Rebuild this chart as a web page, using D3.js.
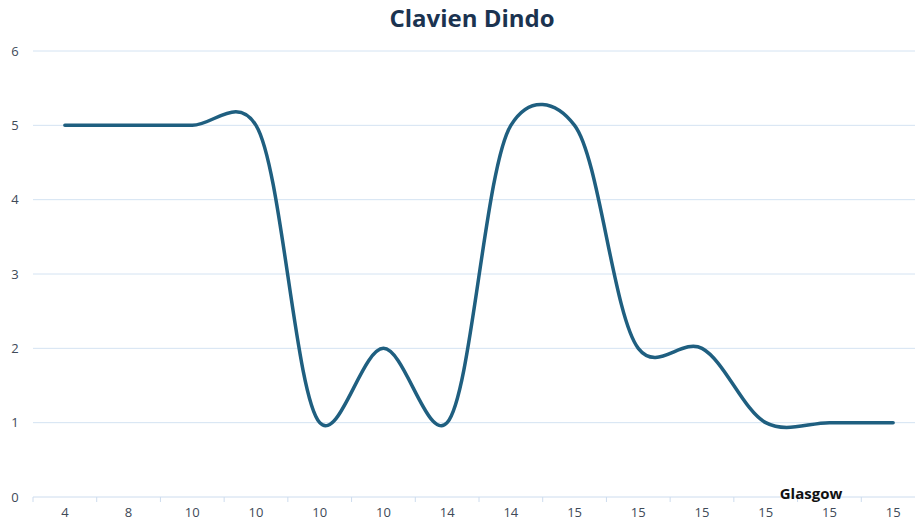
<!DOCTYPE html>
<html>
<head>
<meta charset="utf-8">
<script src="https://cdn.jsdelivr.net/npm/d3@7"></script>
<style>
  body { margin: 0; background: #fff; overflow: hidden; }
  text { font-family: "Open Sans", "Noto Sans", sans-serif; }
</style>
</head>
<body>
<script>
// chart data
const categories = ["4", "8", "10", "10", "10", "10", "14", "14", "15", "15", "15", "15", "15", "15"];
const values = [5, 5, 5, 5, 1, 2, 1, 5, 5, 2, 2, 1, 1, 1];
const yTicks = [0, 1, 2, 3, 4, 5, 6];

const width = 915, height = 524;
const margin = {top: 51, right: -10, bottom: 27, left: 33};

const svg = d3.select("body").append("svg")
    .attr("width", width)
    .attr("height", height);

const x = d3.scaleBand()
    .domain(d3.range(categories.length))
    .range([margin.left, width - margin.right]);

const y = d3.scaleLinear()
    .domain([0, 6])
    .range([height - margin.bottom, margin.top]);

// gridlines
svg.append("g")
    .selectAll("line")
    .data(yTicks.filter(d => d > 0))
    .join("line")
    .attr("x1", margin.left)
    .attr("x2", width)
    .attr("y1", d => y(d))
    .attr("y2", d => y(d))
    .attr("stroke", "#d4e3f2")
    .attr("stroke-width", 1);

// y labels
svg.append("g")
    .selectAll("text")
    .data(yTicks)
    .join("text")
    .attr("x", 15)
    .attr("y", d => y(d))
    .attr("dy", "0.35em")
    .attr("text-anchor", "middle")
    .attr("font-size", 13)
    .attr("fill", "#404a58")
    .text(d => d);

// x axis
const xAxis = svg.append("g")
    .attr("transform", `translate(0,${y(0)})`);

xAxis.append("line")
    .attr("x1", margin.left)
    .attr("x2", width)
    .attr("stroke", "#cddcee")
    .attr("stroke-width", 1);

xAxis.selectAll(".tick")
    .data(d3.range(categories.length + 1))
    .join("line")
    .attr("class", "tick")
    .attr("x1", i => i < categories.length ? x(i) : x(i - 1) + x.bandwidth())
    .attr("x2", i => i < categories.length ? x(i) : x(i - 1) + x.bandwidth())
    .attr("y1", 0)
    .attr("y2", 5)
    .attr("stroke", "#cddcee");

xAxis.selectAll(".lbl")
    .data(categories)
    .join("text")
    .attr("class", "lbl")
    .attr("x", (d, i) => x(i) + x.bandwidth() / 2)
    .attr("y", 20)
    .attr("text-anchor", "middle")
    .attr("font-size", 13)
    .attr("fill", "#404a58")
    .text(d => d);

// smoothed line (roughly like the spreadsheet's smoothing)
const line = d3.line()
    .x((d, i) => x(i) + x.bandwidth() / 2)
    .y(d => y(d))
    .curve(d3.curveCatmullRom.alpha(0.2));

svg.append("path")
    .datum(values)
    .attr("fill", "none")
    .attr("stroke", "#1f5f80")
    .attr("stroke-width", 3.5)
    .attr("stroke-linecap", "round")
    .attr("d", line);

// title
svg.append("text")
    .attr("x", 472)
    .attr("y", 27)
    .attr("text-anchor", "middle")
    .attr("font-size", 24)
    .attr("font-weight", "bold")
    .attr("fill", "#1b3350")
    .text("Clavien Dindo");

// axis title
svg.append("text")
    .attr("x", 811)
    .attr("y", 499)
    .attr("text-anchor", "middle")
    .attr("font-size", 15)
    .attr("font-weight", "bold")
    .attr("fill", "#111")
    .text("Glasgow");
</script>
</body>
</html>
